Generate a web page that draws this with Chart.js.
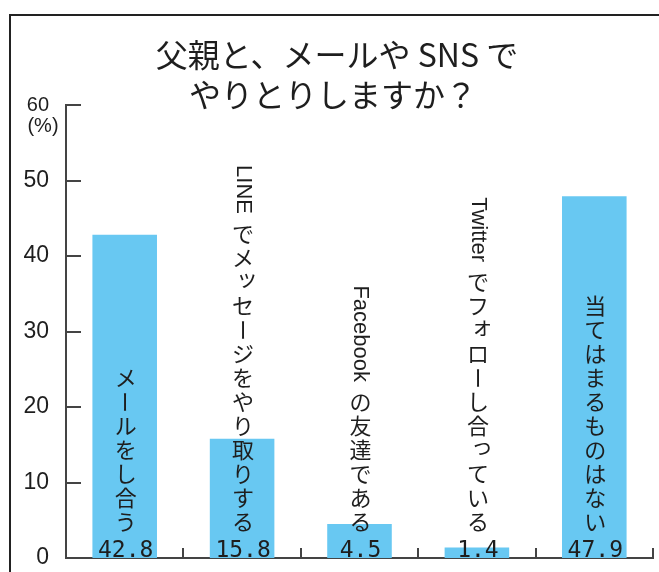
<!DOCTYPE html>
<html>
<head>
<meta charset="utf-8">
<script src="https://cdn.jsdelivr.net/npm/chart.js@4"></script>
<style>
  html, body { margin: 0; padding: 0; background: #fff; }
  #wrap { width: 659px; height: 572px; }
</style>
</head>
<body>
<div id="wrap"><canvas id="chart" width="659" height="572"></canvas></div>
<script>
const categories = [
  "メールをし合う",
  "LINE でメッセージをやり取りする",
  "Facebook の友達である",
  "Twitter でフォローし合っている",
  "当てはまるものはない"
];
const values = [42.8, 15.8, 4.5, 1.4, 47.9];
const valueLabels = ["42.8", "15.8", "4.5", "1.4", "47.9"];
const titleLines = ["父親と、メールや SNS で", "やりとりしますか？"];
const yUnit = "(%)";

const INK = "#1e1e1e";
const AXIS = "#444";
const CJK_FONT = '22px "Noto Sans CJK JP"';
const LATIN_FONT = '22px "Liberation Sans", Arial, sans-serif';
const PITCH = 24;
const SMALL_KANA = "ッっォぉャゃュゅョょァぁィぃゥぅェぇ";

// 縦書きラベル（英字は90度回転）
function splitRuns(text) {
  const runs = [];
  for (const ch of text) {
    const latin = /[\x21-\x7e]/.test(ch);
    const type = ch === " " ? "space" : latin ? "latin" : "cjk";
    const last = runs[runs.length - 1];
    if (type === "latin" && last && last.type === "latin") last.text += ch;
    else runs.push({ type, text: ch });
  }
  return runs;
}

function drawVertical(ctx, text, cx, bottom) {
  const runs = splitRuns(text);
  let total = 0;
  runs.forEach(r => {
    if (r.type === "space") r.len = 8;
    else if (r.type === "cjk") r.len = PITCH;
    else { ctx.font = LATIN_FONT; r.len = ctx.measureText(r.text).width; }
    total += r.len;
  });
  let y = bottom - total;
  runs.forEach(r => {
    if (r.type === "cjk") {
      ctx.font = CJK_FONT;
      ctx.textAlign = "center";
      ctx.textBaseline = "middle";
      if (r.text === "ー") {
        ctx.save();
        ctx.translate(cx, y + PITCH / 2);
        ctx.rotate(Math.PI / 2);
        ctx.fillText(r.text, 0, 0);
        ctx.restore();
      } else if (SMALL_KANA.includes(r.text)) {
        ctx.fillText(r.text, cx + 4, y + PITCH / 2 - 4);
      } else {
        ctx.fillText(r.text, cx, y + PITCH / 2);
      }
    } else if (r.type === "latin") {
      ctx.save();
      ctx.font = LATIN_FONT;
      ctx.textAlign = "left";
      ctx.textBaseline = "middle";
      ctx.translate(cx, y);
      ctx.rotate(Math.PI / 2);
      ctx.fillText(r.text, 0, 0);
      ctx.restore();
    }
    y += r.len;
  });
}

const framePlugin = {
  id: "frame",
  beforeDraw(chart) {
    const ctx = chart.ctx;
    ctx.save();
    ctx.fillStyle = "#fff";
    ctx.fillRect(0, 0, chart.width, chart.height);
    ctx.strokeStyle = "#222";
    ctx.lineWidth = 2;
    ctx.beginPath();
    ctx.moveTo(10, chart.height + 5);
    ctx.lineTo(10, 15);
    ctx.lineTo(chart.width + 5, 15);
    ctx.stroke();
    // タイトル
    ctx.fillStyle = INK;
    ctx.font = '32px "Noto Sans CJK JP"';
    ctx.textAlign = "center";
    ctx.textBaseline = "middle";
    ctx.fillText(titleLines[0], 337, 55);
    ctx.fillText(titleLines[1], 333, 95);
    ctx.restore();
  },
  afterDatasetsDraw(chart) {
    const ctx = chart.ctx;
    const area = chart.chartArea;
    const xs = chart.scales.x;
    const ys = chart.scales.y;
    ctx.save();
    ctx.strokeStyle = AXIS;
    ctx.lineWidth = 2;
    // y 目盛り（内向き）
    ys.ticks.forEach(t => {
      const py = Math.round(ys.getPixelForValue(t.value));
      ctx.beginPath();
      ctx.moveTo(area.left, py);
      ctx.lineTo(area.left + 15, py);
      ctx.stroke();
    });
    // x 区切り
    const w = (area.right - area.left) / categories.length;
    for (let i = 1; i <= categories.length; i++) {
      const px = Math.round(area.left + w * i);
      ctx.beginPath();
      ctx.moveTo(px, area.bottom);
      ctx.lineTo(px, area.bottom - 10);
      ctx.stroke();
    }
    // 単位
    ctx.fillStyle = INK;
    ctx.font = '20px "Liberation Sans", Arial, sans-serif';
    ctx.textAlign = "center";
    ctx.textBaseline = "middle";
    ctx.fillText(yUnit, 43, 126);
    // ラベルと数値
    const base = area.bottom;
    categories.forEach((c, i) => {
      const cx = xs.getPixelForValue(i) + 1;
      drawVertical(ctx, c, cx, base - 24);
      ctx.font = '23px "DejaVu Sans Mono", monospace';
      ctx.textAlign = "center";
      ctx.textBaseline = "alphabetic";
      ctx.fillText(valueLabels[i], cx, base - 1);
    });
    ctx.restore();
  }
};

new Chart(document.getElementById("chart"), {
  type: "bar",
  data: {
    labels: categories,
    datasets: [{
      data: values,
      backgroundColor: "#68C8F2",
      borderWidth: 0,
      barPercentage: 0.55,
      categoryPercentage: 1
    }]
  },
  options: {
    responsive: false,
    animation: false,
    layout: { padding: { top: 105, right: 6, bottom: 14, left: 0 } },
    plugins: { legend: { display: false }, tooltip: { enabled: false }, title: { display: false } },
    scales: {
      x: {
        grid: { display: false },
        ticks: { display: false },
        border: { color: AXIS, width: 2 },
        afterFit: s => { s.height = 0; s.paddingLeft = 0; s.paddingRight = 0; }
      },
      y: {
        min: 0,
        max: 60,
        ticks: {
          stepSize: 10,
          padding: 9,
          color: INK,
          font: ctx => ({
            family: '"Liberation Sans", Arial, sans-serif',
            size: ctx.tick && ctx.tick.value === 60 ? 20 : 23
          })
        },
        grid: { display: false },
        border: { color: AXIS, width: 2 },
        afterFit: s => { s.width = 66; s.paddingTop = 0; s.paddingBottom = 0; }
      }
    }
  },
  plugins: [framePlugin]
});
</script>
</body>
</html>
